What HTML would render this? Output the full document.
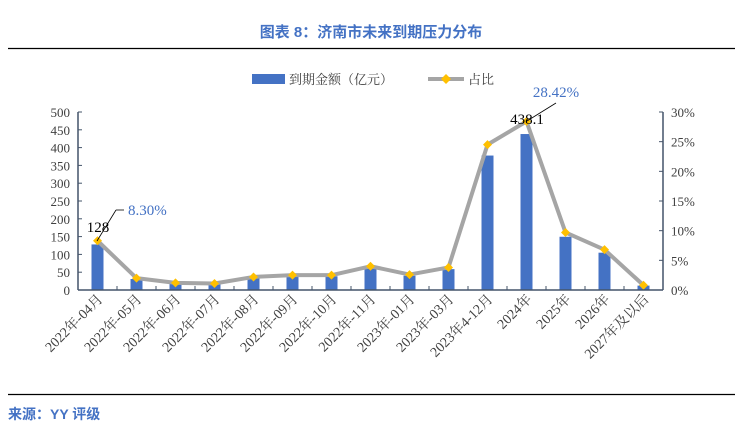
<!DOCTYPE html>
<html><head><meta charset="utf-8"><style>
body{margin:0;background:#fff;width:743px;height:433px;overflow:hidden}
svg text{font-family:"Liberation Serif","Noto Serif CJK SC",serif}
</style></head><body>
<svg width="743" height="433" xmlns="http://www.w3.org/2000/svg">
<text x="371" y="37" text-anchor="middle" font-size="15" font-weight="bold" fill="#4472c4" style="font-family:'Liberation Sans','Noto Sans CJK SC',sans-serif">图表 8：济南市未来到期压力分布</text>
<line x1="8" y1="48.5" x2="735" y2="48.5" stroke="#000" stroke-width="1.2"/>
<line x1="8" y1="394.5" x2="735" y2="394.5" stroke="#000" stroke-width="1.2"/>
<text x="8" y="419" font-size="14" font-weight="bold" fill="#4472c4" style="font-family:'Liberation Sans','Noto Sans CJK SC',sans-serif">来源：YY 评级</text>
<rect x="252" y="74" width="33" height="10" fill="#4472c4"/>
<text x="289" y="84" font-size="13" fill="#404040">到期金额（亿元）</text>
<line x1="428" y1="79" x2="464" y2="79" stroke="#a5a5a5" stroke-width="4"/>
<polygon points="446,74 451,79 446,84 441,79" fill="#ffc000"/>
<text x="468" y="84" font-size="13" fill="#404040">占比</text>
<g id="chart"></g>
</svg>
<script>
var g=document.getElementById('chart'),ns='http://www.w3.org/2000/svg';
function el(t,a,txt){var e=document.createElementNS(ns,t);for(var k in a)e.setAttribute(k,a[k]);if(txt)e.textContent=txt;g.appendChild(e);return e;}
var L=78,R=663,T=112,B=290;
var labels=["2022年-04月","2022年-05月","2022年-06月","2022年-07月","2022年-08月","2022年-09月","2022年-10月","2022年-11月","2023年-01月","2023年-03月","2023年4-12月","2024年","2025年","2026年","2027年及以后"];
var n=labels.length,w=(R-L)/n;
var pct=[8.3,2.0,1.2,1.1,2.2,2.5,2.5,4.0,2.6,3.8,24.5,28.42,9.7,6.8,0.8];
var vals=pct.map(function(p){return p/28.42*438.1});vals[0]=128;
for(var i=0;i<=10;i++){var y=B-i*(B-T)/10;el('text',{x:L-8,y:y+5,'text-anchor':'end','font-size':13,fill:'#404040'},String(i*50));}
for(var i=0;i<=6;i++){var y=B-i*(B-T)/6;el('text',{x:R+8,y:y+5,'font-size':13,fill:'#404040'},(i*5)+'%');el('line',{x1:R,y1:y,x2:R-4,y2:y,stroke:'#44546a'});}
for(var i=0;i<=10;i++){var y=B-i*(B-T)/10;el('line',{x1:L,y1:y,x2:L+4,y2:y,stroke:'#44546a'});}
var pts=[];
for(var i=0;i<n;i++){var c=L+w*(i+0.5),h=vals[i]*(B-T)/500;
el('rect',{x:c-6,y:B-h,width:12,height:h,fill:'#4472c4'});
pts.push([c,B-pct[i]/30*(B-T)]);
el('line',{x1:L+w*i,y1:B,x2:L+w*i,y2:B-4,stroke:'#44546a'});
el('text',{x:0,y:0,'text-anchor':'end','font-size':14,fill:'#404040',transform:'translate('+(c+6)+','+(B+10)+') rotate(-45)'},labels[i]);}
el('polyline',{points:pts.map(function(p){return p.join(',')}).join(' '),fill:'none',stroke:'#a5a5a5','stroke-width':4,'stroke-linejoin':'round'});
pts.forEach(function(p){el('polygon',{points:(p[0])+','+(p[1]-4.5)+' '+(p[0]+4.5)+','+p[1]+' '+p[0]+','+(p[1]+4.5)+' '+(p[0]-4.5)+','+p[1],fill:'#ffc000'});});
el('line',{x1:L,y1:T,x2:L,y2:B,stroke:'#44546a','stroke-width':1.5});
el('line',{x1:R,y1:T,x2:R,y2:B,stroke:'#44546a','stroke-width':1.5});
el('line',{x1:L,y1:B,x2:R,y2:B,stroke:'#44546a','stroke-width':1.5});
el('text',{x:98,y:232,'text-anchor':'middle','font-size':15,fill:'#000'},'128');
el('line',{x1:97,y1:241,x2:116,y2:210,stroke:'#000','stroke-width':0.8});
el('line',{x1:116,y1:210,x2:124,y2:210,stroke:'#000','stroke-width':0.8});
el('text',{x:128,y:215,'font-size':15,fill:'#4472c4'},'8.30%');
el('text',{x:527,y:124,'text-anchor':'middle','font-size':15,fill:'#000'},'438.1');
el('line',{x1:527,y1:121,x2:556,y2:103,stroke:'#000','stroke-width':0.8});
el('text',{x:556,y:97,'text-anchor':'middle','font-size':15,fill:'#4472c4'},'28.42%');
</script>
</body></html>
